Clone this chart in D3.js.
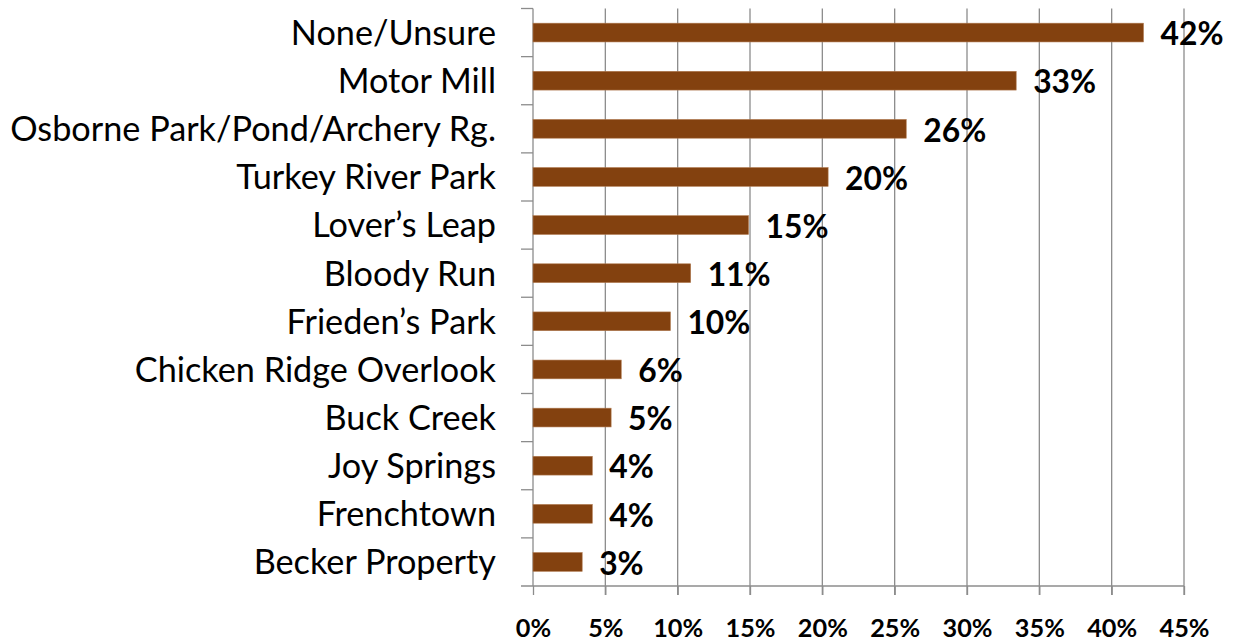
<!DOCTYPE html>
<html>
<head>
<meta charset="utf-8">
<script src="https://cdn.jsdelivr.net/npm/d3@7"></script>
<style>
  body { margin: 0; background: #fff; }
  svg { display: block; }
</style>
</head>
<body>
<div class="chart"></div>
<script>
// places, top to bottom
let places = ["None/Unsure", "Motor Mill", "Osborne Park/Pond/Archery Rg.", "Turkey River Park",
  "Lover\u2019s Leap", "Bloody Run", "Frieden\u2019s Park", "Chicken Ridge Overlook",
  "Buck Creek", "Joy Springs", "Frenchtown", "Becker Property"];
let shares = [42.2, 33.4, 25.8, 20.4, 14.9, 10.9, 9.5, 6.1, 5.4, 4.1, 4.1, 3.4];
let shareLabels = ["42%", "33%", "26%", "20%", "15%", "11%", "10%", "6%", "5%", "4%", "4%", "3%"];
let xTicks = [0, 5, 10, 15, 20, 25, 30, 35, 40, 45];

let width = 1237;
let height = 641;
let fontFamily = "Lato, 'Open Sans', sans-serif";

let svg = d3.select(".chart")
  .append("svg")
  .attr("width", width)
  .attr("height", height);

// pick a font size so a sample string comes out at a given width
function fitSize(str, target, weight) {
  let t = svg.append("text")
    .attr("font-family", fontFamily)
    .attr("font-weight", weight)
    .attr("font-size", 100)
    .text(str);
  let w = t.node().getComputedTextLength();
  t.remove();
  return 100 * target / w;
}

let catSize = fitSize("Osborne Park/Pond/Archery Rg.", 486, 400);
let valSize = fitSize("42%", 63, 700);
let tickSize = fitSize("45%", 50, 700);

let x = d3.scaleLinear().domain([0, 45]).range([533, 1184]);
let y = d3.scaleBand().domain(places).range([8.5, 586]).paddingInner(0.61).paddingOuter(0.305);
let yOuter = d3.scaleBand().domain(places).range([8.5, 586]);

let gridColor = "#8c8c8c";

// vertical gridlines
svg.append("g")
  .selectAll("line")
  .data(xTicks.slice(1))
  .enter().append("line")
  .attr("x1", d => x(d))
  .attr("x2", d => x(d))
  .attr("y1", 8.5)
  .attr("y2", 595)
  .attr("stroke", gridColor)
  .attr("stroke-width", 1.3);

// bottom axis
let xAxis = svg.append("g")
  .attr("transform", "translate(0,586)")
  .call(d3.axisBottom(x).tickValues(xTicks).tickSize(9).tickFormat(d => d + "%"));
xAxis.select(".domain").remove();
xAxis.selectAll(".tick line").attr("stroke", gridColor).attr("stroke-width", 1.3);
xAxis.selectAll(".tick text")
  .attr("fill", "#000")
  .attr("font-family", fontFamily)
  .attr("font-weight", 700)
  .attr("font-size", tickSize)
  .attr("dy", null)
  .attr("y", 51);
xAxis.append("line")
  .attr("x1", 521).attr("x2", x(45))
  .attr("stroke", gridColor).attr("stroke-width", 1.3);

// left axis with category ticks at band edges
let yAxis = svg.append("g");
yAxis.append("line")
  .attr("x1", 533).attr("x2", 533)
  .attr("y1", 8.5).attr("y2", 586)
  .attr("stroke", gridColor).attr("stroke-width", 1.3);
yAxis.selectAll(".cattick")
  .data(places)
  .enter().append("line")
  .attr("class", "cattick")
  .attr("x1", 521).attr("x2", 533)
  .attr("y1", d => yOuter(d))
  .attr("y2", d => yOuter(d))
  .attr("stroke", gridColor).attr("stroke-width", 1.3);

// category labels
svg.append("g")
  .selectAll("text")
  .data(places)
  .enter().append("text")
  .attr("x", 496)
  .attr("y", d => yOuter(d) + yOuter.bandwidth() / 2)
  .attr("dy", "0.36em")
  .attr("text-anchor", "end")
  .attr("font-family", fontFamily)
  .attr("font-size", catSize)
  .attr("fill", "#000")
  .text(d => d);

// bars
svg.append("g")
  .selectAll("rect")
  .data(places)
  .enter().append("rect")
  .attr("x", x(0))
  .attr("y", d => y(d))
  .attr("width", (d, i) => x(shares[i]) - x(0))
  .attr("height", y.bandwidth())
  .attr("fill", "#83410f")
  .attr("stroke", "#b07a50")
  .attr("stroke-width", 0.6);

// value labels
svg.append("g")
  .selectAll("text")
  .data(places)
  .enter().append("text")
  .attr("x", (d, i) => x(shares[i]) + 17)
  .attr("y", d => yOuter(d) + yOuter.bandwidth() / 2)
  .attr("dy", "0.4em")
  .attr("font-family", fontFamily)
  .attr("font-weight", 700)
  .attr("font-size", valSize)
  .attr("fill", "#000")
  .text((d, i) => shareLabels[i]);
</script>
</body>
</html>
